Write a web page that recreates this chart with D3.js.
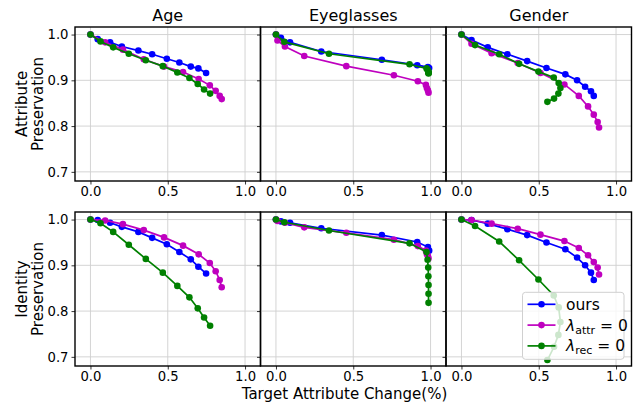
<!DOCTYPE html>
<html>
<head>
<meta charset="utf-8">
<script src="https://cdn.jsdelivr.net/npm/d3@7"></script>
<style>
  body { margin: 0; background: #fff; }
  svg { font-family: "DejaVu Sans", sans-serif; }
</style>
</head>
<body>
<div id="chart"></div>
<script>
// panels and methods
const attributes = ["Age", "Eyeglasses", "Gender"];
const methods = ["ours", "attr", "rec"];
const methodColours = { ours: "#0000ff", attr: "#bf00bf", rec: "#008000" };

// x = target attribute change, shared by both rows
const changeOurs = {
  Age:        [0, 0.047, 0.127, 0.203, 0.310, 0.399, 0.494, 0.575, 0.649, 0.698, 0.748],
  Eyeglasses: [0, 0.032, 0.091, 0.293, 0.685, 0.914, 0.983, 0.991],
  Gender:     [0, 0.065, 0.170, 0.297, 0.425, 0.550, 0.672, 0.748, 0.800, 0.838, 0.856]
};
const changeAttr = {
  Age:        [0, 0.095, 0.210, 0.345, 0.476, 0.599, 0.700, 0.772, 0.810, 0.836, 0.849],
  Eyeglasses: [0, 0.010, 0.058, 0.183, 0.455, 0.763, 0.918, 0.970, 0.976, 0.983, 0.987],
  Gender:     [0, 0.065, 0.195, 0.364, 0.511, 0.666, 0.759, 0.819, 0.856, 0.881, 0.890]
};
const changeRec = {
  Age:        [0, 0.065, 0.147, 0.248, 0.358, 0.468, 0.562, 0.640, 0.694, 0.735, 0.774],
  Eyeglasses: [0, 0.054, 0.343, 0.864, 0.974, 0.981, 0.985, 0.986, 0.987, 0.987, 0.987],
  Gender:     [0, 0.088, 0.244, 0.373, 0.498, 0.597, 0.629, 0.640, 0.627, 0.599, 0.556]
};

// top row: attribute preservation
const attrPresOurs = {
  Age:        [1, 0.990, 0.983, 0.974, 0.965, 0.957, 0.947, 0.939, 0.930, 0.926, 0.916],
  Eyeglasses: [1, 0.993, 0.983, 0.963, 0.945, 0.933, 0.929, 0.927],
  Gender:     [1, 0.988, 0.972, 0.957, 0.942, 0.927, 0.913, 0.900, 0.886, 0.876, 0.866]
};
const attrPresAttr = {
  Age:        [1, 0.983, 0.967, 0.946, 0.930, 0.918, 0.903, 0.889, 0.877, 0.866, 0.859],
  Eyeglasses: [1, 0.987, 0.974, 0.953, 0.931, 0.911, 0.898, 0.890, 0.883, 0.878, 0.873],
  Gender:     [1, 0.980, 0.959, 0.938, 0.916, 0.891, 0.866, 0.843, 0.825, 0.809, 0.797]
};
const attrPresRec = {
  Age:        [1, 0.985, 0.972, 0.958, 0.944, 0.931, 0.917, 0.905, 0.892, 0.880, 0.871],
  Eyeglasses: [1, 0.984, 0.958, 0.935, 0.926, 0.923, 0.920, 0.918, 0.917, 0.916, 0.915],
  Gender:     [1, 0.977, 0.957, 0.936, 0.919, 0.906, 0.894, 0.883, 0.871, 0.860, 0.853]
};

// bottom row: identity preservation
const idPresOurs = {
  Age:        [1, 0.999, 0.993, 0.984, 0.973, 0.960, 0.946, 0.929, 0.913, 0.897, 0.882],
  Eyeglasses: [1, 0.996, 0.993, 0.981, 0.966, 0.951, 0.940, 0.932],
  Gender:     [1, 0.999, 0.991, 0.979, 0.966, 0.950, 0.935, 0.917, 0.900, 0.884, 0.868]
};
const idPresAttr = {
  Age:        [1, 0.998, 0.990, 0.977, 0.961, 0.943, 0.924, 0.905, 0.887, 0.868, 0.852],
  Eyeglasses: [1, 0.997, 0.993, 0.983, 0.971, 0.956, 0.942, 0.932, 0.925, 0.920, 0.915],
  Gender:     [1, 0.999, 0.991, 0.980, 0.967, 0.953, 0.938, 0.922, 0.907, 0.895, 0.880]
};
const idPresRec = {
  Age:        [1, 0.992, 0.973, 0.945, 0.914, 0.884, 0.855, 0.830, 0.806, 0.786, 0.768],
  Eyeglasses: [1, 0.994, 0.976, 0.948, 0.929, 0.912, 0.895, 0.876, 0.857, 0.838, 0.818],
  Gender:     [1, 0.986, 0.952, 0.911, 0.869, 0.834, 0.808, 0.776, 0.748, 0.722, 0.693]
};

const xTicks = [0, 0.5, 1.0];
const yTicks = [0.7, 0.8, 0.9, 1.0];

const rows = [
  { label: ["Attribute", "Preservation"], values: { ours: attrPresOurs, attr: attrPresAttr, rec: attrPresRec } },
  { label: ["Identity", "Preservation"], values: { ours: idPresOurs, attr: idPresAttr, rec: idPresRec } }
];
const changes = { ours: changeOurs, attr: changeAttr, rec: changeRec };

// layout
const W = 635, H = 402;
const colLeft = [75, 260.5, 446], panelW = 185.5;
const rowTop = [27, 212], panelH = 154;

const svg = d3.select("#chart").append("svg")
  .attr("width", W).attr("height", H);

rows.forEach((row, r) => {
  const top = rowTop[r];
  const y = d3.scaleLinear().domain([0.68, 1.0165]).range([top + panelH, top]);

  attributes.forEach((attr, c) => {
    const left = colLeft[c];
    const x = d3.scaleLinear().domain([-0.1, 1.1]).range([left, left + panelW]);
    const g = svg.append("g");

    // grid
    g.selectAll(".gx").data(xTicks).enter().append("line")
      .attr("x1", d => x(d)).attr("x2", d => x(d))
      .attr("y1", top).attr("y2", top + panelH)
      .attr("stroke", "#cfcfcf").attr("stroke-width", 0.9);
    g.selectAll(".gy").data(yTicks).enter().append("line")
      .attr("x1", left).attr("x2", left + panelW)
      .attr("y1", d => y(d)).attr("y2", d => y(d))
      .attr("stroke", "#cfcfcf").attr("stroke-width", 0.9);

    // axes
    const ax = g.append("g")
      .attr("transform", `translate(0,${top + panelH})`)
      .call(d3.axisBottom(x).tickValues(xTicks).tickFormat(d3.format(".1f")).tickSize(3.5).tickPadding(2));
    const ay = g.append("g")
      .attr("transform", `translate(${left},0)`)
      .call(d3.axisLeft(y).tickValues(yTicks).tickFormat(c === 0 ? d3.format(".1f") : "").tickSize(3.5).tickPadding(3));
    [ax, ay].forEach(a => {
      a.select(".domain").remove();
      a.selectAll("text").attr("font-size", 13.2).attr("fill", "#000")
        .attr("font-family", "DejaVu Sans");
      a.selectAll("line").attr("stroke", "#000").attr("stroke-width", 0.8);
    });

    // series
    methods.forEach(m => {
      const xs = changes[m][attr], ys = row.values[m][attr];
      const pts = xs.map((v, i) => [v, ys[i]]);
      g.append("path")
        .datum(pts)
        .attr("fill", "none")
        .attr("stroke", methodColours[m])
        .attr("stroke-width", 1.7)
        .attr("d", d3.line().x(d => x(d[0])).y(d => y(d[1])));
      g.selectAll(".dot-" + m).data(pts).enter().append("circle")
        .attr("cx", d => x(d[0])).attr("cy", d => y(d[1]))
        .attr("r", 3.3)
        .attr("fill", methodColours[m]);
    });

    // frame
    g.append("rect")
      .attr("x", left).attr("y", top)
      .attr("width", panelW).attr("height", panelH)
      .attr("fill", "none").attr("stroke", "#000").attr("stroke-width", 1.4);

    // titles on the top row
    if (r === 0) {
      svg.append("text")
        .attr("x", left + panelW / 2).attr("y", 20.5)
        .attr("text-anchor", "middle")
        .attr("font-size", 16)
        .text(attr);
    }
  });

  // y label (two lines)
  const mid = top + panelH / 2;
  const lab = svg.append("text")
    .attr("transform", `translate(28,${mid}) rotate(-90)`)
    .attr("text-anchor", "middle")
    .attr("font-size", 15);
  lab.append("tspan").attr("x", 0).attr("dy", "-0.1em").text(row.label[0]);
  lab.append("tspan").attr("x", 0).attr("dy", "1.1em").text(row.label[1]);
});

// x label
svg.append("text")
  .attr("x", 344.5).attr("y", 398.5)
  .attr("text-anchor", "middle")
  .attr("font-size", 15)
  .text("Target Attribute Change(%)");

// legend
const lg = svg.append("g").attr("transform", "translate(522.5,292.3)");
lg.append("rect")
  .attr("width", 101.5).attr("height", 67).attr("rx", 3)
  .attr("fill", "#fff").attr("fill-opacity", 0.8)
  .attr("stroke", "#d0d0d0").attr("stroke-width", 1);
const legendLabels = [
  { m: "ours", main: "ours" },
  { m: "attr", main: "λ", sub: "attr" },
  { m: "rec", main: "λ", sub: "rec" }
];
legendLabels.forEach((d, i) => {
  const cy = 12 + i * 20.8;
  lg.append("line")
    .attr("x1", 5).attr("x2", 33).attr("y1", cy).attr("y2", cy)
    .attr("stroke", methodColours[d.m]).attr("stroke-width", 1.7);
  lg.append("circle")
    .attr("cx", 19).attr("cy", cy).attr("r", 3.3)
    .attr("fill", methodColours[d.m]);
  const t = lg.append("text")
    .attr("x", 43.5).attr("y", cy + 5.5)
    .attr("font-size", 15.5);
  if (d.sub) {
    t.append("tspan").attr("font-style", "italic").text(d.main);
    t.append("tspan").attr("font-size", 11).attr("dy", 3).text(d.sub);
    t.append("tspan").attr("dy", -3).text(" = 0");
  } else {
    t.text(d.main);
  }
});
</script>
</body>
</html>
